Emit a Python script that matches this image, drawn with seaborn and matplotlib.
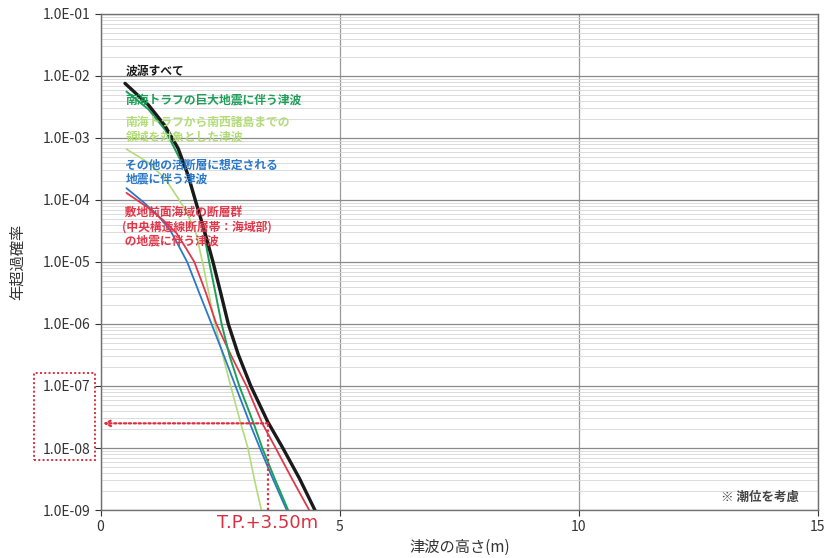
import numpy as np
import pandas as pd
import matplotlib
matplotlib.use("Agg")
import matplotlib.pyplot as plt
import matplotlib.ticker as mticker
from matplotlib.patches import Rectangle
import seaborn as sns

# ── Data ─────────────────────────────────────────────────────────────────────
x_all = [0.51, 1.00, 1.34, 1.62, 1.83, 2.01, 2.18, 2.35, 2.51, 2.67, 2.88, 3.14,
         3.50, 3.81, 4.16, 4.48, 4.56]
y_all = [7.6e-3, 3.4e-3, 1.6e-3, 6.8e-4, 2.5e-4, 8.3e-5, 3.0e-5, 1.0e-5, 3.2e-6,
         1.0e-6, 3.2e-7, 1.0e-7, 2.6e-8, 1.0e-8, 3.2e-9, 1.0e-9, 7.5e-10]

x_nankai = [0.54, 1.00, 1.35, 1.60, 1.80, 1.97, 2.11, 2.27, 2.40, 2.53, 2.70, 2.90,
            3.20, 3.38, 3.64, 3.92, 3.98]
y_nankai = [5.6e-3, 2.9e-3, 1.35e-3, 5.6e-4, 2.8e-4, 1.0e-4, 4.8e-5, 1.0e-5,
            3.2e-6, 1.0e-6, 3.0e-7, 1.0e-7, 2.5e-8, 1.0e-8, 3.2e-9, 1.0e-9, 8.0e-10]

x_ryukyu = [0.54, 1.00, 1.35, 1.62, 1.80, 2.00, 2.13, 2.26, 2.39, 2.55, 2.72, 2.93,
            3.08, 3.22, 3.36, 3.39]
y_ryukyu = [6.6e-4, 4.0e-4, 2.2e-4, 1.07e-4, 6.4e-5, 2.8e-5, 1.0e-5, 3.2e-6,
            1.0e-6, 3.2e-7, 1.0e-7, 2.5e-8, 1.0e-8, 3.0e-9, 1.0e-9, 8.0e-10]

x_active = [0.54, 0.89, 1.20, 1.45, 1.62, 1.81, 2.06, 2.32, 2.57, 2.82, 3.12, 3.33,
            3.60, 3.89, 3.95]
y_active = [1.55e-4, 9.3e-5, 5.6e-5, 3.3e-5, 1.9e-5, 1.0e-5, 3.2e-6, 1.0e-6,
            3.2e-7, 1.0e-7, 2.5e-8, 1.0e-8, 3.2e-9, 1.0e-9, 8.0e-10]

x_mtl = [0.54, 0.96, 1.30, 1.59, 1.80, 1.96, 2.20, 2.42, 2.72, 3.05, 3.38, 3.66,
         4.00, 4.36, 4.44]
y_mtl = [1.3e-4, 7.8e-5, 4.8e-5, 2.9e-5, 1.6e-5, 1.0e-5, 3.2e-6, 1.0e-6, 3.2e-7,
         1.0e-7, 2.5e-8, 1.0e-8, 3.2e-9, 1.0e-9, 7.8e-10]

ytick_vals = [1e-1, 1e-2, 1e-3, 1e-4, 1e-5, 1e-6, 1e-7, 1e-8, 1e-9]
ytick_labels = ["1.0E-01", "1.0E-02", "1.0E-03", "1.0E-04", "1.0E-05",
                "1.0E-06", "1.0E-07", "1.0E-08", "1.0E-09"]
xtick_vals = [0, 5, 10, 15]

tp_height = 3.5
tp_prob = 2.5e-8

# ── Style ────────────────────────────────────────────────────────────────────
sns.set_style("white")
plt.rcParams["font.family"] = ["Noto Sans CJK JP", "DejaVu Sans"]

C_ALL = "#1a1a1a"
C_NANKAI = "#1f9e5a"
C_RYUKYU = "#b2dc78"
C_ACTIVE = "#2a78c8"
C_MTL = "#e0384a"
C_RED = "#d83040"

fig = plt.figure(figsize=(8.26, 5.58), dpi=100)
ax = fig.add_axes([0.1218, 0.086, 0.8685, 0.889])

series = [
    (x_ryukyu, y_ryukyu, C_RYUKYU, 1.2),
    (x_active, y_active, C_ACTIVE, 1.3),
    (x_mtl, y_mtl, C_MTL, 1.3),
    (x_nankai, y_nankai, C_NANKAI, 1.4),
    (x_all, y_all, C_ALL, 2.4),
]
for xs, ys, col, lw in series:
    df = pd.DataFrame({"x": xs, "y": ys})
    sns.lineplot(data=df, x="x", y="y", ax=ax, color=col, lw=lw, sort=False)

ax.set_yscale("log")
ax.set_xlim(0, 15)
ax.set_ylim(1e-9, 1e-1)
ax.yaxis.set_major_locator(mticker.FixedLocator(ytick_vals))
ax.yaxis.set_major_formatter(mticker.FixedFormatter(ytick_labels))
ax.yaxis.set_minor_locator(mticker.LogLocator(base=10, subs=np.arange(2, 10)))
ax.yaxis.set_minor_formatter(mticker.NullFormatter())
ax.set_xticks(xtick_vals)
ax.tick_params(axis="both", which="major", labelsize=10, colors="#333333",
               length=4, direction="out", left=True, bottom=True)
ax.tick_params(axis="y", which="minor", length=0)
ax.grid(axis="x", which="major", color="#9a9a9a", lw=0.9)
ax.grid(axis="y", which="major", color="#8a8a8a", lw=0.9)
ax.grid(axis="y", which="minor", color="#d6d6d6", lw=0.6)
for s in ax.spines.values():
    s.set_color("#707070")
    s.set_linewidth(1.0)

ax.set_xlabel("津波の高さ(m)", fontsize=11, color="#333333", labelpad=3)
ax.set_ylabel("年超過確率", fontsize=11, color="#333333", labelpad=12)

# ── Series labels ────────────────────────────────────────────────────────────
ax.text(0.52, 1.2e-2, "波源すべて", color=C_ALL, fontsize=8.5,
        fontweight="bold", va="center")
ax.text(0.52, 4.1e-3, "南海トラフの巨大地震に伴う津波", color=C_NANKAI,
        fontsize=8.5, fontweight="bold", va="center")
ax.text(0.52, 1.35e-3, "南海トラフから南西諸島までの\n領域を対象とした津波",
        color=C_RYUKYU, fontsize=8.5, fontweight="bold", va="center",
        linespacing=1.15)
ax.text(0.52, 2.8e-4, "その他の活断層に想定される\n地震に伴う津波",
        color=C_ACTIVE, fontsize=8.5, fontweight="bold", va="center",
        linespacing=1.15)
ax.text(0.45, 3.7e-5, " 敷地前面海域の断層群\n(中央構造線断層帯：海域部)\n の地震に伴う津波",
        color=C_MTL, fontsize=8.5, fontweight="bold", va="center",
        linespacing=1.15)
ax.text(14.6, 1.6e-9, "※ 潮位を考慮", color="#444444", fontsize=9,
        fontweight="bold", ha="right", va="center")

# ── T.P.+3.50m annotation ───────────────────────────────────────────────────
ax.plot([tp_height, tp_height], [1e-9, tp_prob], color=C_RED, lw=1.6,
        ls=(0, (1, 1.2)))
ax.annotate("", xy=(0.05, tp_prob), xytext=(tp_height, tp_prob),
            arrowprops=dict(arrowstyle="->", color=C_RED, lw=1.6,
                            ls=(0, (1, 1.2)), shrinkA=0, shrinkB=0))
ax.text(tp_height, -0.008, "T.P.+3.50m", transform=ax.get_xaxis_transform(),
        color=C_RED, fontsize=13, ha="center", va="top",
        family=["DejaVu Sans"])

# dotted box around the 1.0E-07 / 1.0E-08 tick labels
box = Rectangle((34 / 826, 1 - 460 / 558), 61 / 826, 87 / 558,
                transform=fig.transFigure, fill=False, ec=C_RED, lw=1.4,
                ls=(0, (1, 1.2)), clip_on=False)
fig.patches.append(box)

fig.savefig("out.png", dpi=100)
